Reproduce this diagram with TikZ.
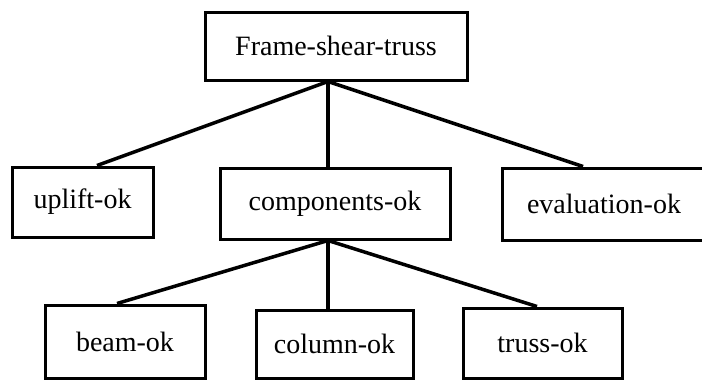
\documentclass[tikz,border=0pt]{standalone}
\usepackage{fontspec}
\setmainfont{Liberation Serif}
\begin{document}
\begin{tikzpicture}[x=1pt,y=-1pt,
  box/.style={draw,rectangle,line width=3pt,inner sep=0pt,
    font=\fontsize{28}{32}\selectfont},
  link/.style={line width=3.5pt}]
\useasboundingbox (0,0) rectangle (702,380);
\clip (0,0) rectangle (702,380);
% goal
\node[box,minimum width=262pt,minimum height=68pt] (top) at (336,46) {Frame-shear-truss};
% second level
\node[box,minimum width=141pt,minimum height=70pt] (up) at (82.5,202) {uplift-ok};
\node[box,minimum width=230pt,minimum height=71pt] (comp) at (335,203.5) {components-ok};
\node[box,minimum width=204pt,minimum height=72pt] (eval) at (604,204) {evaluation-ok};
% third level
\node[box,minimum width=160pt,minimum height=73pt] (beam) at (125,341.5) {beam-ok};
\node[box,minimum width=157pt,minimum height=68pt] (col) at (334.5,344) {column-ok};
\node[box,minimum width=159pt,minimum height=70pt] (truss) at (542.5,343) {truss-ok};
% branching points
\coordinate (hubA) at ([xshift=-8pt]top.south);
\coordinate (hubB) at ([xshift=-7pt]comp.south);
% connectors
\draw[link] (hubA) -- ([xshift=14.5pt]up.north);
\draw[link] (hubA) -- (hubA |- comp.north);
\draw[link] (hubA) -- ([xshift=-21pt]eval.north);
\draw[link] (hubB) -- ([xshift=-8pt]beam.north);
\draw[link] (hubB) -- (hubB |- col.north);
\draw[link] (hubB) -- ([xshift=-5.5pt]truss.north);
\end{tikzpicture}
\end{document}
